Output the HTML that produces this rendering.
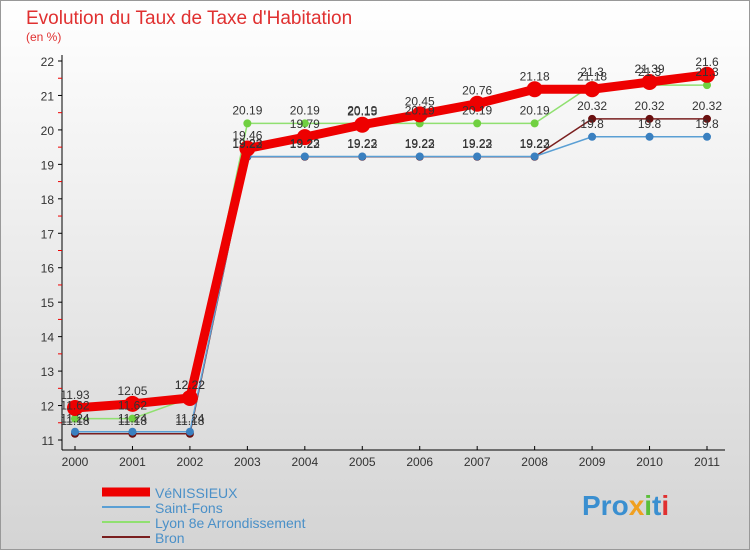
<!DOCTYPE html>
<html><head><meta charset="utf-8"><style>
body{margin:0;width:750px;height:550px;overflow:hidden;font-family:"Liberation Sans",sans-serif}
svg text{font-family:"Liberation Sans",sans-serif}
</style></head><body>
<svg id="c" width="750" height="550" xmlns="http://www.w3.org/2000/svg">
<defs><linearGradient id="bg" x1="0" y1="0" x2="0" y2="1"><stop offset="0" stop-color="#ffffff"/><stop offset="1" stop-color="#d4d4d4"/></linearGradient></defs>
<rect x="0.5" y="0.5" width="749" height="549" fill="url(#bg)" stroke="#999"/>
<text x="26" y="24" font-size="19" fill="#e03030">Evolution du Taux de Taxe d'Habitation</text>
<text x="26" y="41" font-size="12" fill="#e03030">(en %)</text>
<g id="axes"></g><g id="series"></g><g id="labels"></g>
<g id="legend"></g>
<text x="582" y="515" font-size="28" font-weight="bold"><tspan fill="#3a8fd0">Pro</tspan><tspan fill="#f0a020">x</tspan><tspan fill="#5bbf3a">i</tspan><tspan fill="#3a8fd0">t</tspan><tspan fill="#e03030">i</tspan></text>
</svg>
<script>
const years=[2000,2001,2002,2003,2004,2005,2006,2007,2008,2009,2010,2011];
const venissieux=[11.93,12.05,12.22,19.46,19.79,20.15,20.45,20.76,21.18,21.18,21.39,21.6];
const saintFons=[11.24,11.24,11.24,19.23,19.23,19.23,19.23,19.23,19.23,19.8,19.8,19.8];
const lyon8=[11.62,11.62,12.22,20.19,20.19,20.19,20.19,20.19,20.19,21.3,21.3,21.3];
const bron=[11.18,11.18,11.18,19.22,19.22,19.22,19.22,19.22,19.22,20.32,20.32,20.32];
const yTicks=[11,12,13,14,15,16,17,18,19,20,21,22];
const names=["VéNISSIEUX","Saint-Fons","Lyon 8e  Arrondissement","Bron"];
const NS="http://www.w3.org/2000/svg";
const X=i=>75+i*(632/11), Y=v=>440-(v-11)*(379/11);
function mk(p,t,a){const e=document.createElementNS(NS,t);for(const k in a)e.setAttribute(k,a[k]);document.getElementById(p).appendChild(e);return e;}
let e=mk('axes','line',{x1:62,y1:55,x2:62,y2:450,stroke:'#000'});

e=mk('axes','line',{x1:62,y1:450,x2:725,y2:450,stroke:'#000'});

yTicks.forEach(v=>{
 let l=mk('axes','line',{x1:58,y1:Y(v),x2:62,y2:Y(v),stroke:'#000'});
 
 if(v<22){let m=mk('axes','line',{x1:58,y1:Y(v+0.5),x2:62,y2:Y(v+0.5),stroke:'#e00'});
 }
 let t=mk('axes','text',{x:54,y:Y(v)+5,'font-size':12,'text-anchor':'end',fill:'#333'});t.textContent=v;
 
});
years.forEach((y,i)=>{
 let l=mk('axes','line',{x1:X(i),y1:446,x2:X(i),y2:450,stroke:'#000'});
 
 let t=mk('axes','text',{x:X(i),y:466,'font-size':12,'text-anchor':'middle',fill:'#333'});t.textContent=y;
 
});
const S=[
 {d:bron,c:'#7a1f1f',f:'#6a1010',w:1.5,r:4,n:'bron'},
 {d:saintFons,c:'#5a9fd4',f:'#3a80c0',w:1.5,r:4,n:'saint-fons'},
 {d:lyon8,c:'#90e070',f:'#70d040',w:1.5,r:4,n:'lyon-8e'},
 {d:venissieux,c:'#ee0000',f:'#ee0000',w:9,r:8,n:'venissieux'}];
S.forEach(s=>{
 let p=mk('series','polyline',{points:s.d.map((v,i)=>X(i)+','+Y(v)).join(' '),fill:'none',stroke:s.c,'stroke-width':s.w});
 
 s.d.forEach((v,i)=>{
  let c=mk('series','circle',{cx:X(i),cy:Y(v),r:s.r,fill:s.f});
  
  let t=mk('labels','text',{x:X(i),y:Y(v)-9,'font-size':12,'text-anchor':'middle',fill:'#333'});t.textContent=v;
  
 });
});
const L=[S[3],S[1],S[2],S[0]];
L.forEach((s,i)=>{
 let y=492+i*15;
 let l=mk('legend','line',{x1:102,y1:y,x2:150,y2:y,stroke:s.c,'stroke-width':s===S[3]?9:2});
 
 let t=mk('legend','text',{x:155,y:y+6,'font-size':14,fill:'#4a90c8'});t.textContent=names[i];
 
});
</script>
</body></html>
